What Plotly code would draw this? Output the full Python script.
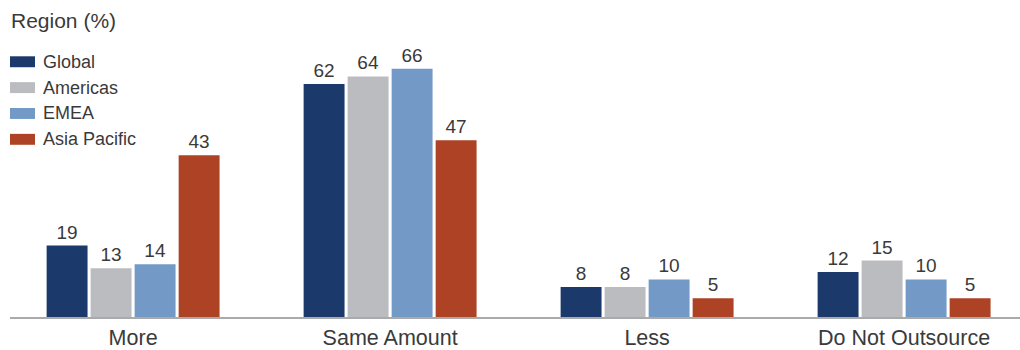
import plotly.graph_objects as go

categories = ["More", "Same Amount", "Less", "Do Not Outsource"]
series_names = ["Global", "Americas", "EMEA", "Asia Pacific"]
global_vals = [19, 62, 8, 12]
americas_vals = [13, 64, 8, 15]
emea_vals = [14, 66, 10, 10]
apac_vals = [43, 47, 5, 5]
colors = ["#1B3A6B", "#BBBCC0", "#7399C6", "#AE4225"]

FONT = "Liberation Sans, Arial, sans-serif"
TEXT = "#3A3A3A"

fig = go.Figure()
for name, vals, col in zip(series_names, [global_vals, americas_vals, emea_vals, apac_vals], colors):
    fig.add_trace(go.Bar(
        x=categories, y=vals, name=name,
        marker=dict(color=col, line=dict(width=0)),
        text=[str(v) for v in vals], textposition="outside",
        textfont=dict(family=FONT, size=19, color=TEXT),
        cliponaxis=False, showlegend=False,
    ))

# Legend drawn as wide swatches with labels
PLOT_W, PLOT_H, TOP = 1010, 298.7, 20
for i, (name, col) in enumerate(zip(series_names, colors)):
    yc = 62 + 26 * i
    fig.add_shape(type="rect", xref="paper", yref="paper",
                  x0=0, x1=25 / PLOT_W,
                  y0=1 - (yc - 5.5 - TOP) / PLOT_H, y1=1 - (yc + 5.5 - TOP) / PLOT_H,
                  fillcolor=col, line=dict(width=0), layer="above")
    fig.add_annotation(text=name, xref="paper", yref="paper",
                       x=31 / PLOT_W, y=1 - (yc - TOP) / PLOT_H, xanchor="left", yanchor="middle",
                       showarrow=False, font=dict(family=FONT, size=18, color=TEXT))

fig.add_annotation(text="Region (%)", xref="paper", yref="paper",
                   x=-1 / PLOT_W, y=1 - (21 - TOP) / PLOT_H, xanchor="left", yanchor="middle",
                   showarrow=False, font=dict(family=FONT, size=21, color=TEXT))

fig.update_layout(
    width=1020, height=350,
    margin=dict(l=10, r=0, t=TOP, b=31),
    paper_bgcolor="white", plot_bgcolor="white",
    barmode="group", bargap=0.315, bargroupgap=0.07,
    xaxis=dict(range=[-0.479, 3.451], showline=True, linecolor="#AAAAAA", linewidth=1.5,
               ticks="", showgrid=False, tickfont=dict(family=FONT, size=21.5, color=TEXT)),
    yaxis=dict(range=[0, 79], visible=False, showgrid=False),
    font=dict(family=FONT),
)

fig.write_html("out.html")
